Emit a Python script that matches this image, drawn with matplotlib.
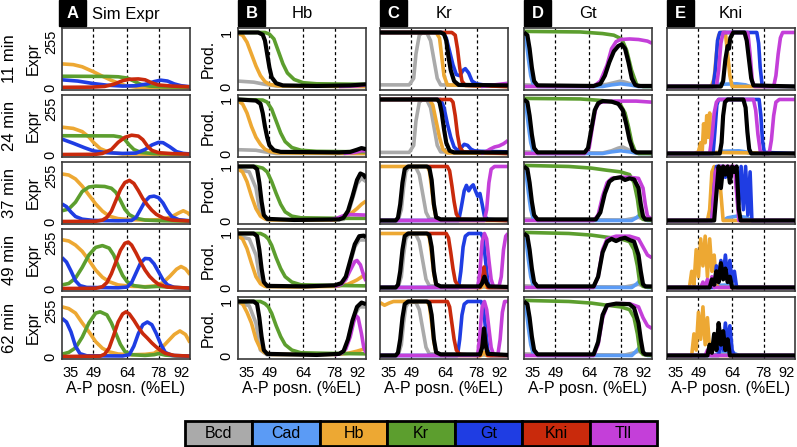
import matplotlib
matplotlib.use('Agg')
import matplotlib.pyplot as plt
from matplotlib.patches import Rectangle

plt.rcParams['font.family'] = ['Liberation Sans', 'DejaVu Sans']

W, H = 797, 447

colors = {'Bcd': '#AAAAAA', 'Cad': '#5B9BF5', 'Hb': '#EDA833', 'Kr': '#5C9E2E',
          'Gt': '#1F3DE3', 'Kni': '#C92A0C', 'Tll': '#C43FD9', 'All': '#000000'}
legend_names = ['Bcd', 'Cad', 'Hb', 'Kr', 'Gt', 'Kni', 'Tll']
times = ['11 min', '24 min', '37 min', '49 min', '62 min']
col_titles = ['Sim Expr', 'Hb', 'Kr', 'Gt', 'Kni']
col_letters = ['A', 'B', 'C', 'D', 'E']
x_ticks = [35, 49, 64, 78, 92]
marks = [49, 64, 78]

# ---- column A: simulated expression (0-255) ----
sim_11 = {
    'Hb': [(35,134),(40,130),(44,118),(49,90),(53,65),(57,42),(61,22),(64,10),(68,4),(92,2)],
    'Kr': [(35,65),(55,64),(60,62),(64,55),(67,38),(70,20),(74,10),(80,6),(92,4)],
    'Gt': [(35,45),(42,38),(49,24),(55,15),(62,10),(68,12),(73,22),(76,35),(79,43),(82,38),(85,22),(88,12),(92,6)],
    'Kni': [(35,3),(48,4),(54,8),(58,20),(62,40),(65,48),(69,50),(72,45),(75,28),(78,16),(84,10),(92,6)],
}
sim_24 = {
    'Hb': [(35,155),(40,148),(44,130),(47,100),(49,70),(52,35),(56,14),(62,5),(92,3)],
    'Kr': [(35,107),(58,106),(61,100),(63,85),(65,55),(67,30),(70,14),(76,7),(92,4)],
    'Gt': [(35,88),(40,65),(45,40),(49,22),(55,12),(62,8),(68,10),(72,30),(75,55),(78,70),(80,68),(83,45),(86,18),(89,8),(92,5)],
    'Kni': [(35,2),(50,3),(53,8),(57,30),(60,70),(63,98),(66,110),(69,105),(71,85),(73,50),(75,25),(78,12),(84,7),(92,4)],
}
sim_37 = {
    'Hb': [(35,268),(38,262),(41,240),(44,200),(47,150),(50,100),(53,60),(56,32),(60,18),(66,12),(74,10),(80,14),(84,30),(87,50),(89,62),(91,50),(92,38)],
    'Kr': [(35,62),(38,72),(41,110),(44,170),(47,195),(50,200),(54,198),(57,188),(59,165),(61,120),(63,70),(65,40),(68,20),(72,10),(80,6),(92,4)],
    'Gt': [(35,100),(37,85),(39,55),(41,30),(44,15),(49,8),(60,6),(66,8),(68,25),(70,70),(72,115),(74,140),(76,144),(78,135),(80,105),(82,60),(84,28),(87,12),(92,6)],
    'Kni': [(35,2),(50,3),(53,10),(55,25),(57,60),(59,120),(61,180),(63,220),(65,232),(67,215),(69,175),(71,130),(73,95),(75,65),(77,42),(80,22),(84,10),(92,5)],
}
sim_49 = {
    'Hb': [(35,275),(38,268),(41,245),(44,210),(47,160),(50,105),(53,65),(56,40),(60,22),(66,14),(72,12),(76,16),(80,35),(83,70),(86,110),(88,125),(90,112),(92,80)],
    'Kr': [(35,22),(38,30),(41,60),(44,120),(47,190),(50,232),(53,242),(56,228),(58,190),(60,130),(62,75),(64,40),(67,18),(72,10),(78,14),(84,8),(92,4)],
    'Gt': [(35,175),(37,150),(39,100),(41,45),(43,18),(46,8),(60,6),(64,10),(66,35),(68,90),(70,145),(72,170),(74,168),(76,140),(78,95),(80,50),(82,22),(85,8),(92,4)],
    'Kni': [(35,2),(50,3),(53,12),(55,35),(57,85),(59,150),(61,215),(63,255),(64.5,262),(66,245),(68,200),(70,150),(72,105),(74,70),(76,45),(78,25),(82,10),(92,4)],
}
sim_62 = {
    'Hb': [(35,280),(38,270),(41,245),(44,190),(47,140),(50,85),(53,48),(56,28),(60,16),(66,12),(72,14),(76,20),(79,45),(82,85),(85,125),(87.5,145),(90,125),(92,80)],
    'Kr': [(35,15),(38,25),(41,50),(44,110),(47,190),(50,245),(52,252),(55,235),(57,190),(59,130),(61,70),(63,30),(66,12),(72,8),(76,12),(78,18),(81,10),(86,5),(92,3)],
    'Gt': [(35,215),(37,195),(39,140),(41,60),(43,18),(46,6),(62,5),(65,12),(67,60),(69,130),(71,180),(73,195),(75,180),(77,130),(79,70),(81,25),(84,8),(92,4)],
    'Kni': [(35,2),(52,4),(54,15),(56,50),(58,120),(60,195),(62,240),(63.5,252),(65,240),(67,205),(69,165),(71,130),(73,105),(75,78),(77,55),(79,35),(81,20),(85,8),(92,4)],
}

# ---- column B: Hb production ----
hb_11 = {
    'Bcd': [(35,0.1),(42,0.08),(47,0.04),(52,0.01),(92,0.0)],
    'Hb': [(35,0.98),(37,0.95),(39,0.82),(41,0.6),(43,0.38),(45,0.2),(47,0.09),(49,0.04),(53,0.01),(92,0.0)],
    'Kr': [(35,1.0),(47,1.0),(49,0.97),(51,0.88),(53,0.65),(55,0.42),(57,0.25),(60,0.13),(64,0.07),(70,0.05),(92,0.04)],
    'Tll': [(80,0.0),(88,0.01),(92,0.03)],
    'All': [(35,1.0),(44,1.0),(46,0.96),(47,0.85),(48,0.6),(49,0.35),(50,0.17),(52,0.06),(55,0.02),(70,0.01),(85,0.02),(92,0.04)],
}
hb_24 = {
    'Bcd': [(35,0.07),(43,0.06),(47,0.03),(52,0.0),(92,0.0)],
    'Hb': [(35,0.97),(37,0.92),(39,0.75),(41,0.5),(43,0.3),(45,0.17),(47,0.08),(49,0.04),(53,0.01),(92,0.0)],
    'Kr': [(35,1.0),(46,0.99),(48,0.95),(50,0.82),(52,0.6),(54,0.38),(56,0.22),(59,0.11),(63,0.06),(70,0.04),(92,0.03)],
    'Tll': [(82,0.0),(87,0.02),(90,0.05),(92,0.05)],
    'All': [(35,1.0),(43,0.98),(45,0.92),(46,0.75),(47,0.5),(48,0.3),(49,0.15),(51,0.06),(54,0.03),(80,0.02),(85,0.03),(88,0.07),(90,0.1),(92,0.08)],
}
hb_37 = {
    'Bcd': [(35,0.95),(40,0.9),(43,0.6),(45,0.1),(48,0.01),(82,0.02),(84,0.12),(86,0.4),(88,0.68),(90,0.78),(92,0.72)],
    'Hb': [(35,0.95),(37,0.9),(39,0.72),(41,0.45),(43,0.22),(45,0.08),(47,0.03),(50,0.01),(78,0.01),(82,0.05),(85,0.12),(88,0.22),(90,0.3),(92,0.36)],
    'Kr': [(35,1.0),(43,1.0),(46,0.97),(48,0.9),(50,0.72),(52,0.5),(54,0.3),(56,0.16),(59,0.08),(63,0.05),(80,0.04),(92,0.04)],
    'Tll': [(76,0.01),(79,0.04),(82,0.09),(85,0.11),(92,0.1)],
    'All': [(35,1.0),(42,1.0),(43.5,0.95),(44.5,0.7),(45.5,0.35),(46.5,0.1),(48,0.03),(60,0.01),(80,0.02),(82,0.05),(84,0.18),(86,0.45),(88,0.75),(89.5,0.87),(91,0.84),(92,0.78)],
}
hb_49 = {
    'Bcd': [(35,0.95),(40,0.9),(43,0.6),(45,0.1),(48,0.01),(80,0.03),(83,0.15),(85,0.45),(87,0.75),(89,0.88),(92,0.88)],
    'Hb': [(35,0.95),(37,0.9),(39,0.72),(41,0.45),(43,0.2),(45,0.07),(47,0.02),(60,0.01),(78,0.02),(84,0.06),(88,0.14),(92,0.25)],
    'Kr': [(35,1.0),(45,1.0),(47,0.96),(48.5,0.9),(50,0.78),(52,0.55),(54,0.35),(56,0.2),(59,0.1),(63,0.05),(75,0.04),(92,0.03)],
    'Tll': [(78,0.02),(81,0.06),(83,0.15),(85,0.32),(87,0.48),(88,0.5),(89.5,0.42),(91,0.22),(92,0.12)],
    'All': [(35,1.0),(42,1.0),(43.5,0.95),(44.5,0.7),(45.5,0.35),(46.5,0.1),(48,0.03),(65,0.02),(78,0.04),(81,0.08),(83,0.2),(85,0.5),(87,0.8),(89,0.95),(91,0.96),(92,0.93)],
}
hb_62 = {
    'Bcd': [(35,0.98),(40,0.92),(43,0.6),(45,0.1),(48,0.01),(81,0.03),(83,0.15),(85,0.45),(87,0.75),(89,0.9),(92,0.9)],
    'Hb': [(35,1.0),(37,0.96),(39,0.8),(41,0.6),(43,0.3),(45,0.12),(47,0.05),(50,0.02),(78,0.02),(84,0.04),(88,0.08),(92,0.13)],
    'Kr': [(35,1.0),(45,1.0),(47,0.96),(48.5,0.9),(50,0.78),(52,0.55),(54,0.35),(56,0.2),(59,0.1),(63,0.05),(75,0.04),(92,0.03)],
    'Tll': [(78,0.01),(81,0.04),(83,0.12),(85,0.35),(86.5,0.62),(87.5,0.74),(88.5,0.7),(90,0.4),(91,0.15),(92,0.05)],
    'All': [(35,1.0),(42,1.0),(43.5,0.95),(44.5,0.7),(45.5,0.35),(46.5,0.1),(48,0.03),(70,0.01),(80,0.03),(82,0.08),(84,0.3),(86,0.65),(88,0.9),(90,0.98),(92,0.95)],
}

# ---- column C: Kr production ----
kr_11 = {
    'Bcd': [(35,0.03),(48,0.03),(50,0.15),(51,0.6),(52.5,0.95),(54,1.0),(56,0.98),(57.5,0.85),(59,0.5),(60.5,0.15),(62,0.03),(92,0.0)],
    'Hb': [(35,1.0),(60,1.0),(61.5,0.9),(62.5,0.55),(63.5,0.2),(65,0.03),(92,0.0)],
    'Gt': [(35,1.0),(63,1.0),(64.5,0.9),(66,0.65),(67.5,0.4),(69,0.22),(70.5,0.2),(72,0.3),(73,0.33),(74.5,0.25),(76,0.1),(78,0.05),(81,0.03),(92,0.02)],
    'Kni': [(35,1.0),(67,1.0),(68.5,0.95),(69.5,0.7),(70.5,0.35),(71.5,0.1),(73,0.02),(92,0.0)],
    'Tll': [(80,0.0),(84,0.02),(88,0.04),(92,0.06)],
    'All': [(35,1.0),(62,1.0),(63.5,0.97),(64.5,0.85),(65.5,0.55),(66.5,0.3),(68,0.1),(70,0.03),(92,0.02)],
}
kr_24 = {
    'Bcd': [(35,0.02),(48,0.02),(50,0.15),(51,0.6),(52.5,0.95),(54,1.0),(56,0.98),(57.5,0.85),(59,0.5),(60.5,0.15),(62,0.03),(92,0.0)],
    'Hb': [(35,1.0),(57,1.0),(58.5,0.9),(60,0.6),(61.5,0.3),(63,0.08),(65,0.01),(92,0.0)],
    'Gt': [(35,1.0),(62,1.0),(63.5,0.85),(65,0.55),(66.5,0.3),(68,0.12),(69.5,0.06),(71,0.1),(72.5,0.17),(74,0.15),(75.5,0.08),(77,0.05),(80,0.04),(92,0.03)],
    'Kni': [(35,1.0),(66.5,1.0),(67.5,0.95),(68.5,0.7),(69.5,0.35),(70.5,0.12),(72,0.03),(92,0.0)],
    'Tll': [(80,0.0),(82,0.03),(84,0.08),(86,0.12),(88,0.14),(90,0.18),(92,0.24)],
    'All': [(35,1.0),(60.5,1.0),(61.5,0.95),(62.5,0.75),(63.5,0.45),(64.5,0.2),(66,0.05),(68,0.02),(92,0.02)],
}
kr_37 = {
    'Bcd': [(35,0.0),(43,0.0),(44.5,0.2),(45.5,0.6),(46.5,0.9),(48,1.0),(51,0.98),(52.5,0.85),(54,0.5),(55.5,0.15),(57,0.03),(92,0.0)],
    'Hb': [(35,1.0),(56,1.0),(57,0.92),(58,0.6),(59,0.25),(60,0.05),(62,0.0),(92,0.0)],
    'Gt': [(35,0.0),(70,0.0),(71,0.2),(72.5,0.55),(73.5,0.65),(74.5,0.55),(75.5,0.62),(76.5,0.66),(77.5,0.55),(78.5,0.45),(79.5,0.5),(80.5,0.3),(81.5,0.08),(83,0.02),(92,0.0)],
    'Kni': [(56.5,1.0),(65,1.0),(66,0.92),(67,0.65),(68,0.35),(69,0.12),(70.5,0.02),(92,0.0)],
    'Tll': [(35,0.0),(81.5,0.0),(82.5,0.2),(83.5,0.7),(84.5,0.95),(86,1.0),(92,1.0)],
    'All': [(35,0.0),(42,0.0),(43,0.05),(44,0.3),(45,0.7),(46,0.95),(47.5,1.0),(56,1.0),(57,0.97),(58,0.75),(59,0.3),(60,0.06),(62,0.02),(92,0.02)],
}
kr_49 = {
    'Bcd': [(35,0.0),(43,0.0),(44.5,0.2),(45.5,0.6),(46.5,0.9),(48,1.0),(51,0.98),(52.5,0.85),(54,0.5),(55.5,0.15),(57,0.03),(92,0.0)],
    'Hb': [(35,1.0),(56,1.0),(57,0.92),(58,0.6),(59,0.25),(60,0.05),(62,0.0),(80,0.0),(81.3,0.06),(82.5,0.0),(92,0.0)],
    'Gt': [(35,0.0),(70,0.0),(71,0.3),(72,0.75),(73,0.95),(74.5,1.0),(80,1.0),(81,0.9),(82,0.5),(83,0.1),(84,0.0),(92,0.0)],
    'Kni': [(56.5,1.0),(64.5,1.0),(65.5,0.92),(66.5,0.65),(67.5,0.35),(68.5,0.12),(70,0.02),(79.5,0.0),(80.5,0.15),(81.3,0.38),(82,0.15),(83,0.0),(92,0.0)],
    'Tll': [(35,0.0),(78.5,0.0),(79.5,0.3),(80.5,0.85),(81.5,1.0),(82.5,0.9),(83.5,0.5),(84.5,0.15),(85.5,0.02),(88,0.02),(89,0.2),(90,0.7),(91,0.95),(92,1.0)],
    'All': [(35,0.0),(42,0.0),(43,0.05),(44,0.3),(45,0.7),(46,0.95),(47.5,1.0),(56,1.0),(57,0.97),(58,0.75),(59,0.3),(60,0.06),(62,0.02),(79.5,0.02),(80.5,0.08),(81.5,0.2),(82.5,0.08),(83.5,0.02),(92,0.01)],
}
kr_62 = {
    'Bcd': [(35,0.0),(43,0.0),(44.5,0.2),(45.5,0.6),(46.5,0.9),(48,1.0),(51,0.98),(52.5,0.85),(54,0.5),(55.5,0.15),(57,0.03),(92,0.0)],
    'Hb': [(35,0.98),(37,0.93),(39,0.97),(41,1.0),(56,1.0),(57,0.92),(58,0.6),(59,0.25),(60,0.05),(62,0.0),(80,0.0),(81.3,0.06),(82.5,0.0),(92,0.0)],
    'Gt': [(35,0.0),(69.5,0.0),(70.5,0.3),(71.5,0.75),(72.5,0.95),(74,1.0),(80,1.0),(81,0.9),(82,0.5),(83,0.1),(84,0.0),(92,0.0)],
    'Kni': [(56.5,1.0),(65,1.0),(66,0.9),(67,0.6),(68,0.3),(69,0.1),(70.5,0.02),(79.5,0.0),(80.5,0.2),(81.3,0.5),(82,0.2),(83,0.0),(92,0.0)],
    'Tll': [(35,0.0),(78.5,0.0),(79.5,0.4),(80.5,0.9),(81.5,1.0),(82.5,0.85),(83.5,0.5),(84.5,0.15),(85.5,0.02),(87.5,0.02),(88.5,0.3),(89.5,0.8),(90.5,1.0),(92,1.0)],
    'All': [(35,0.0),(42,0.0),(43,0.05),(44,0.3),(45,0.7),(46,0.95),(47.5,1.0),(56,1.0),(57,0.97),(58,0.75),(59,0.3),(60,0.06),(62,0.02),(79.5,0.02),(80.5,0.15),(81.3,0.5),(82,0.2),(83,0.03),(92,0.01)],
}

# ---- column D: Gt production ----
gt_11 = {
    'Bcd': [(35,0.03),(42,0.02),(66,0.01),(72,0.04),(76,0.08),(78,0.1),(80,0.08),(84,0.03),(88,0.0),(92,0.0)],
    'Cad': [(35,1.0),(36,0.85),(37,0.5),(38,0.2),(39,0.05),(41,0.0),(70,0.0),(74,0.03),(78,0.05),(82,0.03),(86,0.0),(92,0.0)],
    'Kr': [(35,1.02),(60,1.01),(70,0.98),(75,0.95),(78.5,0.88),(80.7,0.67),(82.9,0.3),(85.2,0.03),(88,0.0),(92,0.0)],
    'Tll': [(35,0.0),(66,0.0),(69,0.1),(72,0.4),(74,0.7),(76,0.83),(78,0.87),(82,0.88),(86,0.87),(90,0.84),(92,0.8)],
    'All': [(35,1.0),(36.5,0.95),(37.5,0.7),(38.5,0.35),(39.5,0.1),(41,0.02),(66,0.01),(69,0.05),(71,0.2),(73,0.45),(75,0.65),(77,0.75),(78.5,0.78),(80,0.7),(81.5,0.45),(83,0.15),(84.5,0.03),(86,0.01),(92,0.01)],
}
gt_24 = {
    'Bcd': [(35,0.03),(42,0.02),(70,0.01),(74,0.05),(77,0.1),(79,0.12),(81,0.08),(84,0.02),(92,0.0)],
    'Cad': [(35,1.0),(36,0.85),(37,0.5),(38,0.2),(39,0.05),(41,0.0),(70,0.0),(74,0.03),(78,0.05),(82,0.03),(86,0.0),(92,0.0)],
    'Kr': [(35,1.02),(60,1.01),(70,0.98),(75,0.95),(78,0.9),(80,0.75),(81.5,0.5),(83,0.2),(84.5,0.04),(86,0.0),(92,0.0)],
    'Tll': [(35,0.0),(62,0.0),(64,0.1),(65.5,0.5),(67,0.85),(69,0.95),(75,0.97),(85,0.97),(92,0.95)],
    'All': [(35,1.0),(36.5,0.95),(37.5,0.7),(38.5,0.35),(39.5,0.1),(41,0.02),(62,0.02),(63.5,0.1),(65,0.45),(66.5,0.8),(68,0.93),(70,0.97),(74,0.96),(77,0.92),(79,0.8),(80.5,0.55),(82,0.25),(83.5,0.06),(85,0.02),(92,0.02)],
}
gt_37 = {
    'Bcd': [(35,0.03),(42,0.02),(80,0.01),(84,0.04),(86,0.06),(88,0.03),(92,0.0)],
    'Cad': [(35,1.0),(36,0.85),(37,0.5),(38,0.2),(39,0.05),(41,0.0),(83,0.0),(85,0.05),(86.5,0.1),(88,0.04),(90,0.0),(92,0.0)],
    'Kr': [(35,1.02),(55,1.0),(65,0.97),(72,0.93),(78,0.9),(82,0.85),(84,0.7),(85.5,0.4),(86.5,0.1),(88,0.02),(92,0.0)],
    'Tll': [(35,0.0),(66,0.0),(68,0.1),(70,0.45),(72,0.7),(74,0.78),(78,0.8),(82,0.8),(86,0.78),(88,0.6),(89,0.3),(90,0.08),(92,0.02)],
    'All': [(35,1.0),(36.5,0.95),(37.5,0.7),(38.5,0.35),(39.5,0.1),(41,0.02),(67,0.02),(69,0.15),(71,0.5),(73,0.72),(75,0.78),(78,0.8),(80,0.75),(82,0.78),(84,0.76),(86,0.6),(87,0.3),(88,0.08),(89,0.02),(92,0.02)],
}
gt_49 = {
    'Bcd': [(35,0.03),(42,0.02),(80,0.01),(84,0.04),(86,0.06),(88,0.03),(92,0.0)],
    'Cad': [(35,1.0),(36,0.85),(37,0.5),(38,0.2),(39,0.05),(41,0.0),(83,0.0),(85,0.06),(86.5,0.12),(88,0.05),(90,0.0),(92,0.0)],
    'Kr': [(35,1.02),(55,1.0),(65,0.97),(72,0.93),(78,0.9),(82,0.85),(84,0.7),(85.5,0.4),(86.5,0.1),(88,0.02),(92,0.0)],
    'Tll': [(35,0.0),(66,0.0),(68,0.2),(70,0.7),(72,0.9),(76,0.95),(82,0.95),(86,0.9),(88,0.75),(90,0.6),(92,0.55)],
    'All': [(35,1.0),(36.5,0.95),(37.5,0.7),(38.5,0.35),(39.5,0.1),(41,0.02),(66,0.02),(68,0.2),(70,0.65),(72,0.85),(74,0.9),(76,0.86),(78,0.9),(80,0.92),(82,0.88),(84,0.85),(86,0.6),(87,0.3),(88,0.06),(89,0.02),(92,0.02)],
}
gt_62 = {
    'Bcd': [(35,0.03),(42,0.02),(80,0.01),(84,0.05),(86,0.08),(88,0.04),(92,0.0)],
    'Cad': [(35,1.0),(36,0.85),(37,0.5),(38,0.2),(39,0.05),(41,0.0),(83,0.0),(85,0.08),(86.5,0.15),(88,0.06),(90,0.0),(92,0.0)],
    'Kr': [(35,1.02),(55,1.0),(65,0.97),(72,0.93),(78,0.9),(82,0.85),(84,0.7),(85.5,0.4),(86.5,0.1),(88,0.02),(92,0.0)],
    'Tll': [(35,0.0),(66,0.0),(68,0.2),(70,0.7),(72,0.92),(76,0.96),(82,0.96),(86,0.9),(88,0.7),(90,0.55),(92,0.5)],
    'All': [(35,1.0),(36.5,0.95),(37.5,0.7),(38.5,0.35),(39.5,0.1),(41,0.02),(66,0.02),(68,0.25),(70,0.75),(72,0.93),(76,0.96),(82,0.95),(84,0.88),(86,0.6),(87,0.3),(88,0.06),(89,0.02),(92,0.02)],
}

# ---- column E: Kni production ----
kni_11 = {
    'Cad': [(56,0.0),(58,0.04),(66,0.05),(70,0.03),(72,0.0)],
    'Hb': [(35,0.0),(54,0.0),(55,0.03),(56,0.15),(57,0.6),(58,0.95),(59,1.0),(61,1.0),(62,0.6),(63,0.2),(64,0.0),(92,0.0)],
    'Gt': [(35,0.0),(55.5,0.0),(56.5,0.3),(57.5,0.85),(58.5,1.0),(75,1.0),(75.8,0.8),(76.5,0.35),(77.3,0.05),(78,0.0),(92,0.0)],
    'Tll': [(35,0.0),(57,0.0),(58,0.3),(59,0.8),(60,1.0),(71,1.0),(72,0.6),(73,0.1),(74,0.0),(82.5,0.0),(83.5,0.2),(84.5,0.6),(85.5,0.9),(86.5,1.0),(92,1.0)],
    'All': [(35,0.0),(59,0.0),(60,0.1),(61,0.5),(62,0.75),(62.6,0.7),(63.2,0.9),(64.5,1.0),(69.5,1.0),(70.5,0.85),(71.5,0.5),(72.5,0.15),(73.5,0.02),(92,0.0)],
}
kni_24 = {
    'Cad': [(57,0.0),(59,0.04),(67,0.05),(70,0.03),(72,0.0)],
    'Hb': [(35,0.0),(47,0.0),(49,0.03),(50,0.2),(50.7,0.05),(51.3,0.55),(52,0.2),(52.7,0.7),(53.3,0.3),(54,0.75),(54.7,0.1),(55.5,0.02),(92,0.0)],
    'Gt': [(35,0.0),(55.5,0.0),(56.3,0.4),(57.2,0.9),(58,1.0),(76,1.0),(76.8,0.7),(77.5,0.25),(78.3,0.02),(92,0.0)],
    'Tll': [(35,0.0),(54,0.0),(55,0.3),(56,0.75),(57,0.95),(58,1.0),(73.5,1.0),(74.5,0.8),(75.5,0.35),(76.5,0.05),(77.5,0.0),(80.5,0.0),(81.5,0.25),(82.5,0.7),(83.5,0.95),(85,1.0),(92,1.0)],
    'All': [(35,0.0),(58.5,0.0),(59.3,0.2),(60,0.7),(60.8,0.95),(62,1.0),(69,1.0),(70,0.85),(70.8,0.4),(71.6,0.08),(72.5,0.0),(92,0.0)],
}
kni_37 = {
    'Cad': [(60,0.0),(62,0.05),(66,0.08),(70,0.06),(73,0.0)],
    'Hb': [(35,0.0),(53,0.0),(54,0.2),(55,0.9),(56,1.0),(57,0.7),(58,1.0),(59,0.5),(60,0.0),(92,0.0)],
    'Tll': [(35,0.0),(55,0.0),(56.5,0.9),(58,1.0),(65,1.0),(66,0.5),(67,0.0),(92,0.0)],
    'Gt': [(35,0.0),(55,0.0),(56,0.6),(57,1.0),(60,1.0),(61,0.8),(62,1.0),(64,0.9),(66,1.0),(67,0.3),(68,1.0),(69,0.2),(70,1.0),(71,0.1),(72,0.9),(72.8,0.0),(92,0.0)],
    'All': [(35,0.0),(56,0.0),(57,0.5),(58,1.0),(59,0.6),(60,1.0),(61,0.85),(62,1.0),(63,0.7),(64,1.0),(65,0.9),(66,1.0),(67,0.2),(67.8,0.0),(92,0.0)],
}
kni_49 = {
    'Cad': [(56,0.0),(58,0.04),(64,0.05),(67,0.0)],
    'Hb': [(35,0.0),(45,0.0),(46,0.3),(47,0.05),(48,0.7),(49,0.2),(50,0.9),(51,0.4),(52,0.95),(53,0.2),(54,0.9),(55,0.3),(56,0.6),(57,0.05),(58,0.0),(92,0.0)],
    'Tll': [(35,0.0),(50,0.0),(51,0.1),(52,0.0),(53,0.15),(54,0.0),(55,0.2),(56,0.0),(92,0.0)],
    'Gt': [(35,0.0),(56,0.0),(57,0.4),(58,0.1),(59,0.5),(60,0.2),(61,0.6),(62,0.15),(63,0.5),(64,0.1),(65,0.3),(66,0.0),(92,0.0)],
    'All': [(35,0.0),(54,0.0),(55,0.15),(56,0.05),(57,0.3),(58,0.1),(59,0.45),(60,0.15),(61,0.35),(62,0.1),(63,0.2),(64,0.0),(92,0.0)],
}
kni_62 = {
    'Cad': [(56,0.0),(58,0.05),(64,0.06),(67,0.0)],
    'Hb': [(35,0.0),(46,0.0),(47,0.4),(48,0.1),(49,0.8),(50,0.3),(51,0.9),(52,0.2),(53,0.7),(54,0.1),(55,0.0),(92,0.0)],
    'Tll': [(35,0.0),(52,0.0),(53,0.1),(54,0.0),(92,0.0)],
    'Gt': [(35,0.0),(58,0.0),(59,0.3),(60,0.1),(61,0.6),(62,0.2),(63,0.55),(64,0.1),(65,0.0),(92,0.0)],
    'All': [(35,0.0),(53,0.0),(54,0.2),(55,0.05),(56,0.4),(57,0.1),(58,0.6),(59,0.2),(60,0.45),(61,0.1),(62,0.3),(63,0.0),(92,0.0)],
}

panels = [
    [sim_11, hb_11, kr_11, gt_11, kni_11],
    [sim_24, hb_24, kr_24, gt_24, kni_24],
    [sim_37, hb_37, kr_37, gt_37, kni_37],
    [sim_49, hb_49, kr_49, gt_49, kni_49],
    [sim_62, hb_62, kr_62, gt_62, kni_62],
]

draw_order = ['Bcd', 'Cad', 'Hb', 'Kr', 'Gt', 'Kni', 'Tll', 'All']

col_left = [62, 238, 380, 524, 667]
row_top = [28, 95, 162, 229, 297]
AW, AH = 128, 62


def fx(px):
    return px / W


def fy(py):
    return 1 - py / H


fig = plt.figure(figsize=(W / 100, H / 100), dpi=100)

for r in range(5):
    for c in range(5):
        ax = fig.add_axes([fx(col_left[c]), fy(row_top[r] + AH), AW / W, AH / H])
        ax.set_xlim(35, 92)
        if c == 0:
            ax.set_ylim(-12, 335)
        else:
            ax.set_ylim(-0.065, 1.083)
        for m in marks:
            ax.axvline(m, color='black', lw=0.9, ls=(0, (2.5, 2.2)), zorder=1)
        data = panels[r][c]
        for g in draw_order:
            if g in data:
                xs = [p[0] for p in data[g]]
                ys = [p[1] for p in data[g]]
                ax.plot(xs, ys, color=colors[g], lw=3.0 if g == 'All' else 2.6,
                        solid_capstyle='butt', zorder=3 if g == 'All' else 2)
        for s in ax.spines.values():
            s.set_color('#3a3a3a')
            s.set_linewidth(1.2)
        ax.tick_params(length=0, labelsize=10.5)
        ax.set_xticks(x_ticks)
        if r == 4:
            labels = ax.set_xticklabels([str(t) for t in x_ticks])
            labels[0].set_ha('left')
            labels[-1].set_ha('right')
            ax.tick_params(axis='x', pad=5)
        else:
            ax.set_xticklabels([])
        if c == 0:
            ax.set_yticks([0, 255])
            ax.set_yticklabels(['0', '255'], rotation=90, va='center', fontsize=10.5)
        elif c == 1:
            ax.set_yticks([0, 1])
            ax.set_yticklabels(['0', '1'], rotation=90, va='center', fontsize=10.5)
        else:
            ax.set_yticks([])
        ax.tick_params(axis='y', pad=3)
        if r == 4:
            fig.text(fx(col_left[c] + AW / 2), fy(389), 'A-P posn. (%EL)',
                     ha='center', va='center', fontsize=11.5)

    yc = fy(row_top[r] + AH / 2)
    fig.text(fx(10), yc, times[r], rotation=90, ha='center', va='center', fontsize=12)
    fig.text(fx(33), yc, 'Expr', rotation=90, ha='center', va='center', fontsize=11.5)
    fig.text(fx(208), yc, 'Prod.', rotation=90, ha='center', va='center', fontsize=11.5)

# column headers
for c in range(5):
    left = col_left[c] - (3 if c == 0 else 0)
    fig.patches.append(Rectangle((fx(left), fy(26)), 27 / W, 26 / H,
                                 transform=fig.transFigure, color='black'))
    fig.text(fx(left + 13.5), fy(13.5), col_letters[c], color='white',
             fontweight='bold', ha='center', va='center', fontsize=12)
    fig.text(fx(col_left[c] + AW / 2), fy(14), col_titles[c],
             ha='center', va='center', fontsize=12)

# legend bar
lax = fig.add_axes([fx(185), fy(446), 472 / W, 25 / H])
lax.set_xlim(0, 7)
lax.set_ylim(0, 1)
lax.axis('off')
for i, name in enumerate(legend_names):
    lax.add_patch(Rectangle((i, 0), 1, 1, facecolor=colors[name],
                            edgecolor='black', lw=2, clip_on=False))
    lax.text(i + 0.5, 0.5, name, ha='center', va='center', fontsize=11.5)

fig.savefig('out.png', dpi=100)
